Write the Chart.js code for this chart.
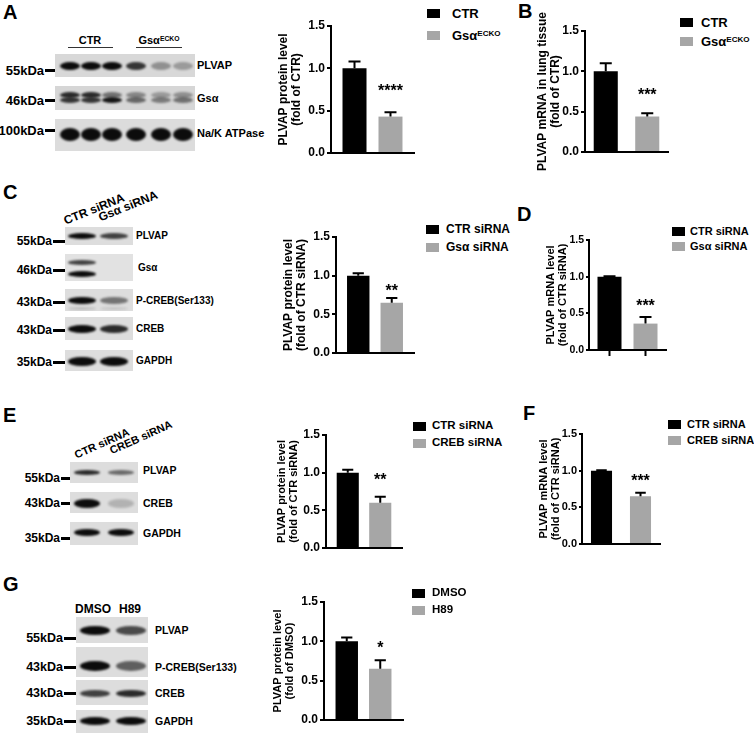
<!DOCTYPE html>
<html>
<head>
<meta charset="utf-8">
<title>PLVAP</title>
<script src="https://cdn.jsdelivr.net/npm/chart.js@4.4.1/dist/chart.umd.min.js"></script>
<style>
  html, body { margin: 0; padding: 0; background: #fff; }
  #fig { position: relative; width: 754px; height: 736px; overflow: hidden;
         font-family: "Liberation Sans", Arial, sans-serif; font-weight: bold; color: #000; }
  #fig div { position: absolute; white-space: nowrap; line-height: 1; }
  #fig canvas { position: absolute; }
  sup { font-size: 0.62em; vertical-align: 0.5em; line-height: 0; }
</style>
</head>
<body>
<div id="fig"></div>
<script>
// CORES E FONTE
const BLACK = "#000000";
const GRAY = "#a6a6a6";
const FONT = "'Liberation Sans', Arial, sans-serif";
const fig = document.getElementById("fig");

// DADOS
const yTicks = [0, 0.5, 1.0, 1.5];

// A - PLVAP protein (lung)
const groupsA = ["CTR", "Gsα^ECKO"];
const valuesA = [1.0, 0.43];
const errorsA = [0.08, 0.05];

// B - PLVAP mRNA (lung tissue)
const groupsB = ["CTR", "Gsα^ECKO"];
const valuesB = [1.0, 0.44];
const errorsB = [0.1, 0.04];

// C - PLVAP protein, Gsα siRNA
const groupsC = ["CTR siRNA", "Gsα siRNA"];
const valuesC = [1.0, 0.65];
const errorsC = [0.03, 0.06];

// D - PLVAP mRNA, Gsα siRNA
const groupsD = ["CTR siRNA", "Gsα siRNA"];
const valuesD = [1.0, 0.36];
const errorsD = [0.005, 0.09];

// E - PLVAP protein, CREB siRNA
const groupsE = ["CTR siRNA", "CREB siRNA"];
const valuesE = [1.0, 0.6];
const errorsE = [0.04, 0.08];

// F - PLVAP mRNA, CREB siRNA
const groupsF = ["CTR siRNA", "CREB siRNA"];
const valuesF = [1.0, 0.65];
const errorsF = [0.005, 0.05];

// G - PLVAP protein, H89
const groupsG = ["DMSO", "H89"];
const valuesG = [1.0, 0.65];
const errorsG = [0.05, 0.11];

// HELPERS DE TEXTO
function label(html, x, cy, fs, align) {
  const d = document.createElement("div");
  d.innerHTML = html.replace(/\^(\w+)/, "<sup>$1</sup>");
  d.style.fontSize = fs + "px";
  d.style.top = (cy - 0.49 * fs) + "px";
  d.style.left = x + "px";
  if (align === "right") d.style.transform = "translateX(-100%)";
  if (align === "center") d.style.transform = "translateX(-50%)";
  fig.appendChild(d);
  return d;
}

function rect(x, y, w, h, color) {
  const d = document.createElement("div");
  d.style.left = x + "px";
  d.style.top = y + "px";
  d.style.width = w + "px";
  d.style.height = h + "px";
  d.style.background = color;
  fig.appendChild(d);
  return d;
}

function rotated(text, cx, cy, fs, deg) {
  const d = label(text, cx, cy, fs);
  d.style.top = (cy - fs / 2) + "px";
  d.style.transform = "translate(-50%, 0) rotate(" + deg + "deg)";
  d.style.transformOrigin = "50% 50%";
}

// LETRAS DOS PAINEIS
[["A", 3, 5], ["B", 518, 4], ["C", 3, 185], ["D", 517, 207],
 ["E", 3, 408], ["F", 523, 406], ["G", 3, 577]].forEach(([t, x, y]) => {
  const d = label(t, x, 0, 20);
  d.style.top = (y - 2.6) + "px";
});

// WESTERN BLOTS (desenho aproximado)
function blot(b) {
  b.rows.forEach((r) => {
    const s = rect(b.x, r.y, b.w, r.h, r.bg || "#dddddd");
    s.style.overflow = "hidden";
    r.bands.forEach((bd) => {
      b.lanes.forEach((cx, k) => {
        const a = bd.ints[k];
        if (a < 0.03) return;
        const e = document.createElement("div");
        e.style.left = (cx - b.x - b.bw / 2) + "px";
        e.style.top = (bd.y - r.y - bd.h / 2) + "px";
        e.style.width = b.bw + "px";
        e.style.height = bd.h + "px";
        e.style.borderRadius = "50%";
        e.style.background = "rgba(12,12,12," + a + ")";
        e.style.filter = "blur(1.3px)";
        s.appendChild(e);
      });
    });
  });
  b.left.forEach(([t, cy]) => {
    label(t, b.lx, cy, b.lfs, "right");
    rect(b.lx + 1, cy - 1.5, b.x - b.lx - 1, 3, BLACK);
  });
  b.right.forEach(([t, x, cy]) => label(t, x, cy, b.rfs));
}

blot({
  x: 55, w: 140, bw: 20, lanes: [70, 91, 112, 136, 161, 183],
  rows: [
    { y: 54, h: 23, bg: "#d8d8d8", bands: [{ y: 66, h: 8, ints: [1, 1, 1, 0.8, 0.35, 0.3] }] },
    { y: 86, h: 24, bg: "#d6d6d6", bands: [
      { y: 95, h: 6, ints: [0.85, 0.85, 0.5, 0.4, 0.3, 0.35] },
      { y: 100, h: 6, ints: [0.8, 0.8, 0.95, 0.55, 0.45, 0.5] }] },
    { y: 119, h: 32, bg: "#dcdcdc", bands: [{ y: 134, h: 13, ints: [1, 1, 1, 1, 1, 1] }] }
  ],
  lx: 44, lfs: 13, left: [["55kDa", 70], ["46kDa", 100], ["100kDa", 130]],
  rfs: 11, right: [["PLVAP", 197, 65], ["Gsα", 197, 98], ["Na/K ATPase", 197, 133]]
});
label("CTR", 90, 40, 11, "center");
rect(68, 47, 45, 1, "#333");
label("Gsα^ECKO", 159, 40, 11, "center");
rect(136, 47, 46, 1, "#333");

blot({
  x: 65, w: 68, bw: 28, lanes: [82, 114],
  rows: [
    { y: 227, h: 18, bands: [{ y: 236, h: 6, ints: [1, 0.75] }] },
    { y: 254, h: 27, bg: "#e2e2e2", bands: [
      { y: 262, h: 5, ints: [0.75, 0.02] },
      { y: 274, h: 6, ints: [1, 0.02] }] },
    { y: 289, h: 22, bands: [{ y: 300, h: 7, ints: [1, 0.5] }, { y: 308, h: 3, ints: [0.15, 0.1] }] },
    { y: 317, h: 23, bands: [{ y: 329, h: 8, ints: [1, 0.85] }] },
    { y: 350, h: 21, bands: [{ y: 361, h: 9, ints: [1, 1] }] }
  ],
  lx: 52, lfs: 12,
  left: [["55kDa", 241], ["46kDa", 270], ["43kDa", 302], ["43kDa", 330], ["35kDa", 362]],
  rfs: 10,
  right: [["PLVAP", 136, 236], ["Gsα", 138, 268], ["P-CREB(Ser133)", 136, 301], ["CREB", 136, 329], ["GAPDH", 136, 361]]
});
rotated("CTR siRNA", 94, 209, 12, -22);
rotated("Gsα siRNA", 128, 206, 12, -22);

blot({
  x: 70, w: 68, bw: 26, lanes: [87, 121],
  rows: [
    { y: 462, h: 21, bands: [{ y: 472, h: 5, ints: [0.85, 0.55] }] },
    { y: 492, h: 21, bands: [{ y: 503, h: 9, ints: [1, 0.2] }] },
    { y: 522, h: 23, bands: [{ y: 532, h: 7, ints: [1, 1] }] }
  ],
  lx: 60, lfs: 12, left: [["55kDa", 478], ["43kDa", 503], ["35kDa", 538]],
  rfs: 10.5, right: [["PLVAP", 143, 470], ["CREB", 143, 503], ["GAPDH", 143, 533]]
});
rotated("CTR siRNA", 102, 443, 11, -24);
rotated("CREB siRNA", 141, 437, 11, -24);

blot({
  x: 76, w: 72, bw: 30, lanes: [95, 131],
  rows: [
    { y: 617, h: 26, bands: [{ y: 630, h: 9, ints: [1, 0.7] }] },
    { y: 647, h: 30, bands: [{ y: 666, h: 10, ints: [1, 0.6] }] },
    { y: 680, h: 25, bands: [{ y: 693, h: 7, ints: [0.75, 0.85] }] },
    { y: 710, h: 23, bands: [{ y: 721, h: 8, ints: [1, 1] }] }
  ],
  lx: 63, lfs: 12.5,
  left: [["55kDa", 638], ["43kDa", 667], ["43kDa", 693], ["35kDa", 721]],
  rfs: 10.5,
  right: [["PLVAP", 155, 630], ["P-CREB(Ser133)", 155, 667], ["CREB", 155, 693], ["GAPDH", 155, 721]]
});
label("DMSO", 93, 609, 12, "center");
label("H89", 130, 609, 12, "center");

// PLUGIN DE BARRAS DE ERRO E ASTERISCOS
const errorBars = {
  id: "errorBars",
  afterDatasetsDraw(chart, args, opts) {
    const ctx = chart.ctx;
    const y = chart.scales.y;
    let lastTop = 0;
    let lastX = 0;
    ctx.save();
    ctx.strokeStyle = BLACK;
    ctx.lineWidth = 2;
    chart.data.datasets.forEach((ds, i) => {
      const bar = chart.getDatasetMeta(i).data[0];
      const v = ds.data[0];
      const y1 = y.getPixelForValue(v);
      const y2 = y.getPixelForValue(v + ds.err);
      const half = bar.width / 4;
      ctx.beginPath();
      ctx.moveTo(bar.x, y1);
      ctx.lineTo(bar.x, y2);
      ctx.moveTo(bar.x - half, y2);
      ctx.lineTo(bar.x + half, y2);
      ctx.stroke();
      if (opts.xTicks) {
        ctx.beginPath();
        ctx.moveTo(bar.x, chart.chartArea.bottom);
        ctx.lineTo(bar.x, chart.chartArea.bottom + 6);
        ctx.stroke();
      }
      lastTop = y2;
      lastX = bar.x;
    });
    ctx.fillStyle = BLACK;
    ctx.font = "bold 16px " + FONT;
    ctx.textAlign = "center";
    ctx.textBaseline = "alphabetic";
    ctx.fillText(opts.stars, lastX, lastTop - opts.gap + 8);
    ctx.restore();
  }
};

// TITULO DO EIXO Y (sem compressao de largura)
const yTitle = {
  id: "yTitle",
  afterDraw(chart, args, opts) {
    const { ctx, chartArea } = chart;
    const mid = (chartArea.top + chartArea.bottom) / 2;
    ctx.save();
    ctx.fillStyle = BLACK;
    ctx.font = "bold " + opts.size + "px " + FONT;
    ctx.textAlign = "center";
    ctx.textBaseline = "middle";
    opts.lines.forEach((t, i) => {
      ctx.save();
      ctx.translate(chartArea.left - opts.d1 + i * opts.gap, mid);
      ctx.rotate(-Math.PI / 2);
      ctx.fillText(t, 0, 0);
      ctx.restore();
    });
    ctx.restore();
  }
};

// GRAFICO DE BARRAS
const Y_W = 60;
const EXT = 30;
function barPanel(p) {
  const canvas = document.createElement("canvas");
  canvas.width = p.xEnd - p.axisX + Y_W + 4;
  canvas.height = p.y0 - p.y15 + 9 + 8 + 2 * EXT;
  canvas.style.left = (p.axisX - Y_W) + "px";
  canvas.style.top = (p.y15 - 9 - EXT) + "px";
  fig.appendChild(canvas);

  new Chart(canvas.getContext("2d"), {
    type: "bar",
    data: {
      labels: [""],
      datasets: p.groups.map((g, i) => ({
        label: g,
        data: [p.values[i]],
        err: p.errors[i],
        backgroundColor: i === 0 ? BLACK : GRAY,
        categoryPercentage: p.cat,
        barPercentage: p.bar,
      })),
    },
    options: {
      responsive: false,
      animation: false,
      layout: { padding: { top: 9 + EXT, right: 4, bottom: 6 + EXT, left: 0 } },
      plugins: {
        legend: { display: false },
        tooltip: { enabled: false },
        errorBars: { stars: p.stars, gap: p.gap, xTicks: !!p.xTicks },
        yTitle: { lines: p.title, size: p.ts, d1: p.d1, gap: p.lgap || 13 },
      },
      scales: {
        x: {
          grid: { display: false },
          ticks: { display: false },
          border: { display: true, color: BLACK, width: 2 },
          afterFit: (s) => { s.height = 2; },
        },
        y: {
          min: 0,
          max: 1.5,
          afterBuildTicks: (s) => { s.ticks = yTicks.map((v) => ({ value: v })); },
          ticks: {
            color: BLACK,
            padding: 2,
            font: { family: FONT, size: p.tf || 12, weight: "bold" },
            callback: (v) => Number(v).toFixed(1),
          },
          grid: { display: true, drawOnChartArea: false, drawTicks: true, tickLength: p.tl || 4, color: BLACK, lineWidth: 2 },
          border: { display: true, color: BLACK, width: 2 },
          afterFit: (s) => { s.width = Y_W; },
        },
      },
    },
    plugins: [errorBars, yTitle],
  });

  // LEGENDA
  p.groups.forEach((g, i) => {
    rect(p.lg[0], p.lg[1][i] - 4.5, 13, 9, i === 0 ? BLACK : GRAY);
    label(g, p.lg[2], p.lg[1][i], p.lg[3]);
  });
}

barPanel({ groups: groupsA, values: valuesA, errors: errorsA,
  axisX: 331, y15: 26, y0: 153, xEnd: 414, cat: 0.867, bar: 0.667,
  title: ["PLVAP protein level", "(fold of CTR)"], ts: 12, d1: 47, stars: "****", gap: 24,
  lg: [427, [13.5, 35], 452, 13] });

barPanel({ groups: groupsB, values: valuesB, errors: errorsB,
  axisX: 585, y15: 31, y0: 152, xEnd: 668, cat: 1.0, bar: 0.58,
  title: ["PLVAP mRNA in lung tissue", "(fold of CTR)"], ts: 12, d1: 42, stars: "***", gap: 21,
  lg: [680, [22.5, 41.5], 701, 13] });

barPanel({ groups: groupsC, values: valuesC, errors: errorsC,
  axisX: 336, y15: 237, y0: 353, xEnd: 414, cat: 0.859, bar: 0.67,
  title: ["PLVAP protein level", "(fold of CTR siRNA)"], ts: 12, d1: 47, stars: "**", gap: 10,
  lg: [426, [229, 247], 446, 12] });

barPanel({ groups: groupsD, values: valuesD, errors: errorsD,
  axisX: 589, y15: 240, y0: 350, xEnd: 666, cat: 0.935, bar: 0.667,
  title: ["PLVAP mRNA level", "(fold of CTR siRNA)"], ts: 11, d1: 38, lgap: 12, tf: 10.5, tl: 3,
  stars: "***", gap: 14, xTicks: true,
  lg: [672, [231, 246], 690, 11] });

barPanel({ groups: groupsE, values: valuesE, errors: errorsE,
  axisX: 326, y15: 435, y0: 548, xEnd: 402, cat: 0.855, bar: 0.68,
  title: ["PLVAP protein level", "(fold of CTR siRNA)"], ts: 11, d1: 44, lgap: 12, stars: "**", gap: 20,
  lg: [413, [426, 443], 432, 11.5] });

barPanel({ groups: groupsF, values: valuesF, errors: errorsF,
  axisX: 582, y15: 434, y0: 544, xEnd: 660, cat: 1.0, bar: 0.54,
  title: ["PLVAP mRNA level", "(fold of CTR siRNA)"], ts: 11, d1: 38, lgap: 12, tf: 11, tl: 3,
  stars: "***", gap: 15,
  lg: [668, [424, 440], 687, 11] });

barPanel({ groups: groupsG, values: valuesG, errors: errorsG,
  axisX: 324, y15: 602, y0: 720, xEnd: 403, cat: 0.848, bar: 0.67,
  title: ["PLVAP protein level", "(fold of DMSO)"], ts: 11, d1: 46, lgap: 12, stars: "*", gap: 15,
  lg: [412, [593, 610], 432, 11.5] });
</script>
</body>
</html>
